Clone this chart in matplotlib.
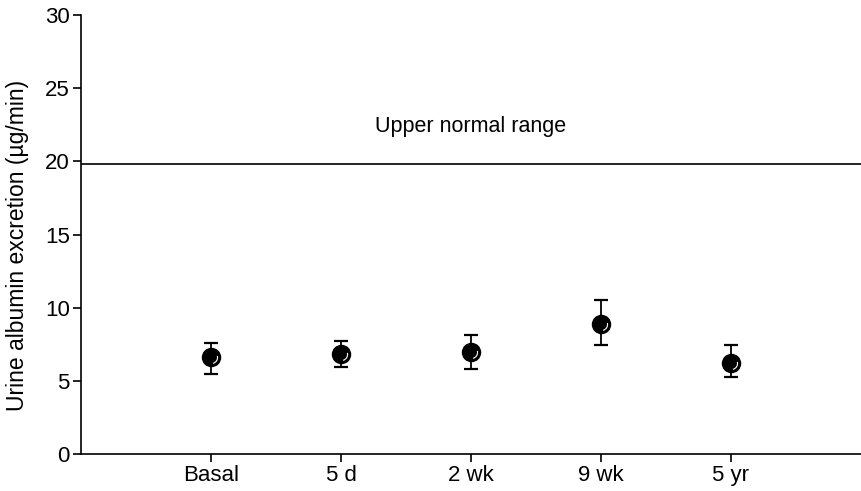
import numpy as np
import matplotlib
matplotlib.use("Agg")
import matplotlib.pyplot as plt
from matplotlib.path import Path

plt.rcParams['font.family'] = ['Liberation Sans', 'DejaVu Sans']

# values
labels = ['Basal', '5 d', '2 wk', '9 wk', '5 yr']
means = [6.6, 6.8, 6.95, 8.85, 6.25]
upper_err = [1.0, 0.95, 1.2, 1.65, 1.2]
lower_err = [1.1, 0.85, 1.15, 1.4, 1.0]
normal_limit = 19.85

x = np.arange(1, len(labels) + 1)

fig = plt.figure(figsize=(8.61, 4.91), dpi=100)
ax = fig.add_axes([0.094, 0.0754, 0.906, 0.894])

ax.errorbar(x, means, yerr=[lower_err, upper_err], fmt='none', ecolor='black',
            elinewidth=1.3, capsize=5, capthick=1.6, zorder=2)
ax.plot(x, means, 'o', color='black', markersize=13, zorder=3)
# small white highlight on each ball
ax.plot(x, means, linestyle='none', marker=Path.arc(-75, 15), markersize=9,
        markerfacecolor='none', markeredgecolor='white', markeredgewidth=0.8, zorder=4)

ax.axhline(normal_limit, color='black', linewidth=1.2)
ax.text(3.0, 22.4, 'Upper normal range', ha='center', va='center', fontsize=15.5)

ax.set_xlim(0, 6)
ax.set_ylim(0, 30)
ax.set_xticks(x)
ax.set_xticklabels(labels)
ax.set_yticks(np.arange(0, 31, 5))
ax.set_ylabel('Urine albumin excretion (µg/min)', fontsize=16.5)
ax.yaxis.set_label_coords(-0.066, 0.476)

ax.spines['top'].set_visible(False)
ax.spines['right'].set_visible(False)
ax.spines['left'].set_linewidth(1.2)
ax.spines['bottom'].set_linewidth(1.2)
ax.tick_params(axis='both', labelsize=16, length=6, width=1.2, direction='out', pad=2)

fig.savefig('out.png', dpi=100)
